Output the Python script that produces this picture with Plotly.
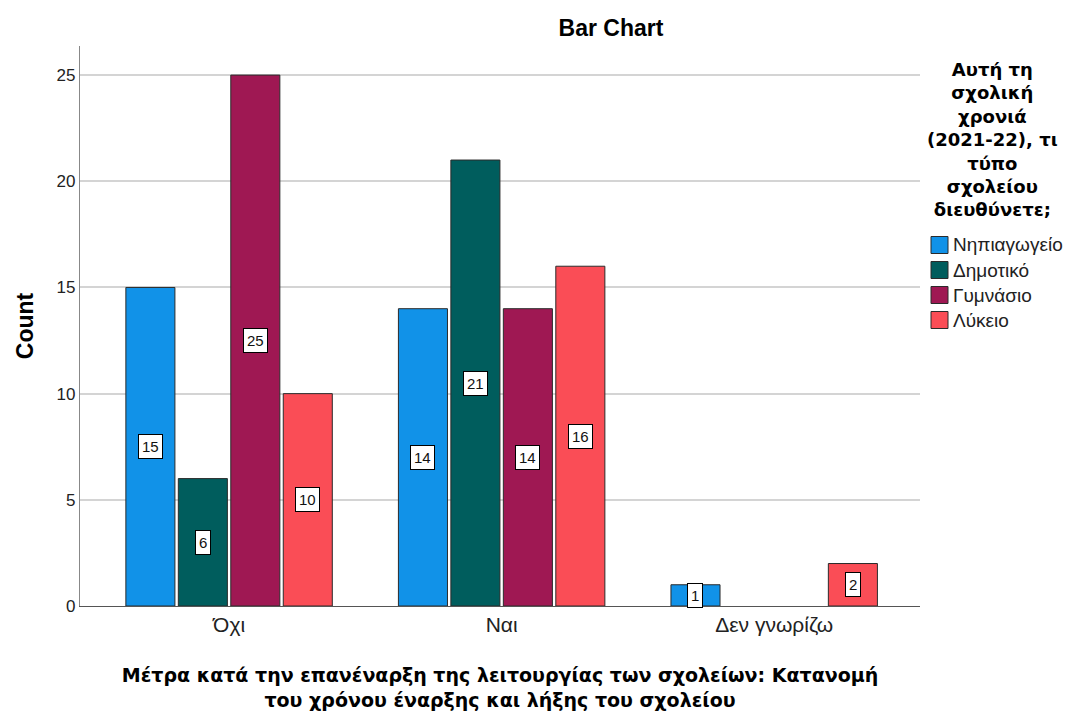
import plotly.graph_objects as go

# Survey counts by response and school type
categories = ["Όχι", "Ναι", "Δεν γνωρίζω"]
series_names = ["Νηπιαγωγείο", "Δημοτικό", "Γυμνάσιο", "Λύκειο"]
nipiagogeio = [15, 14, 1]
dimotiko = [6, 21, 0]
gymnasio = [25, 14, 0]
lykeio = [10, 16, 2]
y_ticks = [0, 5, 10, 15, 20, 25]

series_values = [nipiagogeio, dimotiko, gymnasio, lykeio]
colors = ["#1192e8", "#005d5d", "#9f1853", "#fa4d56"]

SANS = "Liberation Sans, Arial, sans-serif"
WIDE = "DejaVu Sans, Verdana, sans-serif"

W, H = 1065, 711
M_L, M_R, M_T, M_B = 80, 145, 46, 105
PW, PH = W - M_L - M_R, H - M_T - M_B


def px_to_paper(px, py):
    return (px - M_L) / PW, (H - M_B - py) / PH


group_width = 0.77
slot = group_width / len(series_names)
bar_w = 0.18
x_idx = list(range(len(categories)))

fig = go.Figure()
annotations = []
shapes = []
for j, (name, vals, col) in enumerate(zip(series_names, series_values, colors)):
    offset = -group_width / 2 + j * slot + (slot - bar_w) / 2
    fig.add_trace(go.Bar(
        x=x_idx, y=vals, name=name, width=bar_w, offset=offset,
        marker=dict(color=col,
                    line=dict(color="#2b2b2b", width=[1 if v > 0 else 0 for v in vals])),
        showlegend=False,
    ))
    # value labels in white boxes at bar mid-height
    for i, v in enumerate(vals):
        if v > 0:
            annotations.append(dict(
                x=i + offset + bar_w / 2, y=v / 2, xref="x", yref="y",
                text=str(v), showarrow=False,
                font=dict(family=SANS, size=15, color="#111"),
                bgcolor="white", bordercolor="#000", borderwidth=1, borderpad=3,
            ))

    # legend swatch + label
    row_y = 245 + 25 * j
    x0, y0 = px_to_paper(931, row_y + 8.5)
    x1, y1 = px_to_paper(948, row_y - 8.5)
    shapes.append(dict(type="rect", xref="paper", yref="paper", x0=x0, y0=y0, x1=x1, y1=y1,
                       fillcolor=col, line=dict(color="#2b2b2b", width=1)))
    tx, ty = px_to_paper(951, row_y)
    annotations.append(dict(
        x=tx, y=ty, xref="paper", yref="paper", xanchor="left", yanchor="middle",
        text=name, showarrow=False, font=dict(family=SANS, size=19, color="#222"),
    ))

# Legend heading
hx, hy = px_to_paper(993, 57)
annotations.append(dict(
    x=hx, y=hy, xref="paper", yref="paper", xanchor="center", yanchor="top",
    text="<b>Αυτή τη<br>σχολική<br>χρονιά<br>(2021-22), τι<br>τύπο<br>σχολείου<br>διευθύνετε;</b>",
    showarrow=False, align="center",
    font=dict(family=WIDE, size=18, color="#000"),
))

tx, ty = px_to_paper(611, 28)
fig.update_layout(
    width=W, height=H,
    barmode="overlay",
    paper_bgcolor="white", plot_bgcolor="white",
    margin=dict(l=M_L, r=M_R, t=M_T, b=M_B),
    font=dict(family=SANS, color="#000"),
    title=dict(text="<b>Bar Chart</b>", x=tx, xref="paper", xanchor="center",
               y=1 - 28 / H, yanchor="middle",
               font=dict(family=SANS, size=23, color="#000")),
    annotations=annotations,
    shapes=shapes,
    showlegend=False,
    xaxis=dict(
        tickvals=x_idx, ticktext=categories, range=[-0.547, 2.535],
        showgrid=False, showline=True, linecolor="#555", linewidth=1.2,
        ticks="", tickfont=dict(family=SANS, size=21, color="#222"),
        title=dict(text="<b>Μέτρα κατά την επανέναρξη της λειτουργίας των σχολείων: Κατανομή<br>του χρόνου έναρξης και λήξης του σχολείου</b>",
                   font=dict(family=WIDE, size=19, color="#000"), standoff=34),
        zeroline=False, automargin=False,
    ),
    yaxis=dict(
        range=[0, 26.37], tickvals=y_ticks,
        showgrid=True, gridcolor="#d4d4d4", gridwidth=1.5,
        showline=True, linecolor="#888", linewidth=1.2,
        ticks="", tickfont=dict(family=SANS, size=17, color="#222"),
        title=dict(text="<b>Count</b>", font=dict(family=SANS, size=23, color="#000"), standoff=16),
        zeroline=False, automargin=False,
    ),
)

fig.write_html("out.html")
